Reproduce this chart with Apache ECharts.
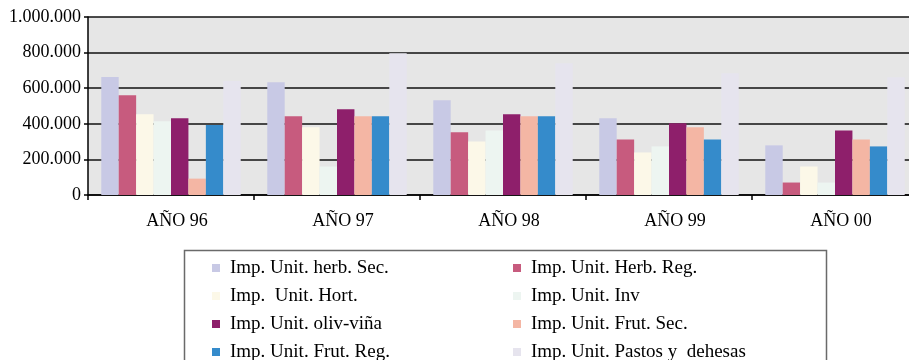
<!DOCTYPE html>
<html>
<head>
<meta charset="utf-8">
<script src="https://cdn.jsdelivr.net/npm/echarts@6/dist/echarts.min.js"></script>
<style>
  html, body { margin: 0; padding: 0; background: #fff; width: 909px; height: 360px; overflow: hidden; }
  /* the plot frame runs a little past the right edge of the page */
  #chart { width: 918px; height: 360px; }
</style>
</head>
<body>
<div id="chart"></div>
<script>
// Years on the category axis
const years = ['AÑO 96', 'AÑO 97', 'AÑO 98', 'AÑO 99', 'AÑO 00'];

// Series names (legend order)
const seriesNames = [
  'Imp. Unit. herb. Sec.',
  'Imp. Unit. Herb. Reg.',
  'Imp.  Unit. Hort.',
  'Imp. Unit. Inv',
  'Imp. Unit. oliv-viña',
  'Imp. Unit. Frut. Sec.',
  'Imp. Unit. Frut. Reg.',
  'Imp. Unit. Pastos y  dehesas'
];

// Unit amounts per year
const herbSec   = [663000, 634000, 533000, 431000, 279000];
const herbReg   = [561000, 442000, 352000, 312000,  70000];
const hort      = [454000, 380000, 301000, 239000, 160000];
const inv       = [414000, 160000, 363000, 273000,  70000];
const olivVina  = [431000, 482000, 454000, 403000, 363000];
const frutSec   = [ 92000, 442000, 442000, 380000, 312000];
const frutReg   = [393000, 442000, 442000, 312000, 273000];
const pastos    = [640000, 797000, 740000, 684000, 661000];

// Value-axis ticks
const yTicks = [0, 200000, 400000, 600000, 800000, 1000000];

const seriesData = [herbSec, herbReg, hort, inv, olivVina, frutSec, frutReg, pastos];
const colors = ['#C8C9E5', '#C75B7E', '#FCF8E8', '#EDF5F1', '#8E1F6B', '#F4B6A4', '#358BCB', '#E6E4EE'];

const FONT = "'Liberation Serif', 'Times New Roman', serif";

function fmtThousands(v) {
  return String(v).replace(/\B(?=(\d{3})+(?!\d))/g, '.');
}

const chart = echarts.init(document.getElementById('chart'), null, { renderer: 'canvas' });

const legendText = {
  fontFamily: FONT, fontSize: 19, color: '#000',
  lineHeight: 20, padding: [0, 0, 0, 5]
};

chart.setOption({
  animation: false,
  color: colors,
  grid: {
    left: 88, top: 17, right: 0, height: 178,
    show: true, backgroundColor: '#E6E6E6', borderWidth: 0,
    containLabel: false
  },
  legend: [
    {
      orient: 'vertical', left: 207, top: 253, height: 160,
      itemWidth: 8, itemHeight: 8, itemGap: 8, icon: 'rect',
      data: [seriesNames[0], seriesNames[2], seriesNames[4], seriesNames[6]],
      textStyle: legendText, selectedMode: false
    },
    {
      orient: 'vertical', left: 508, top: 253, height: 160,
      itemWidth: 8, itemHeight: 8, itemGap: 8, icon: 'rect',
      data: [seriesNames[1], seriesNames[3], seriesNames[5], seriesNames[7]],
      textStyle: legendText, selectedMode: false
    }
  ],
  graphic: [
    {
      type: 'rect', left: 182, top: 248, silent: true,
      shape: { width: 642, height: 140 },
      style: { fill: 'none', stroke: '#6a6a6a', lineWidth: 1.5 }
    }
  ],
  xAxis: {
    type: 'category',
    data: years,
    axisLine: { lineStyle: { color: '#000', width: 1.5 } },
    axisTick: { show: true, length: 5, lineStyle: { color: '#000', width: 1.5 } },
    axisLabel: {
      fontFamily: FONT, fontSize: 18, color: '#000',
      margin: 17, padding: [0, 0, 0, 12]
    },
    splitLine: { show: false }
  },
  yAxis: {
    type: 'value',
    min: yTicks[0], max: yTicks[yTicks.length - 1], interval: 200000,
    axisLine: { show: true, lineStyle: { color: '#000', width: 1.5 } },
    axisTick: { show: true, length: 4, lineStyle: { color: '#000', width: 1.5 } },
    axisLabel: {
      fontFamily: FONT, fontSize: 18, color: '#000', margin: 7,
      formatter: v => fmtThousands(v)
    },
    splitLine: { show: true, lineStyle: { color: '#111', width: 1.5 } }
  },
  series: seriesData.map((d, i) => ({
    name: seriesNames[i],
    type: 'bar',
    data: d,
    barGap: 0,
    barCategoryGap: '16%',
    itemStyle: { color: colors[i] }
  }))
});
</script>
</body>
</html>
